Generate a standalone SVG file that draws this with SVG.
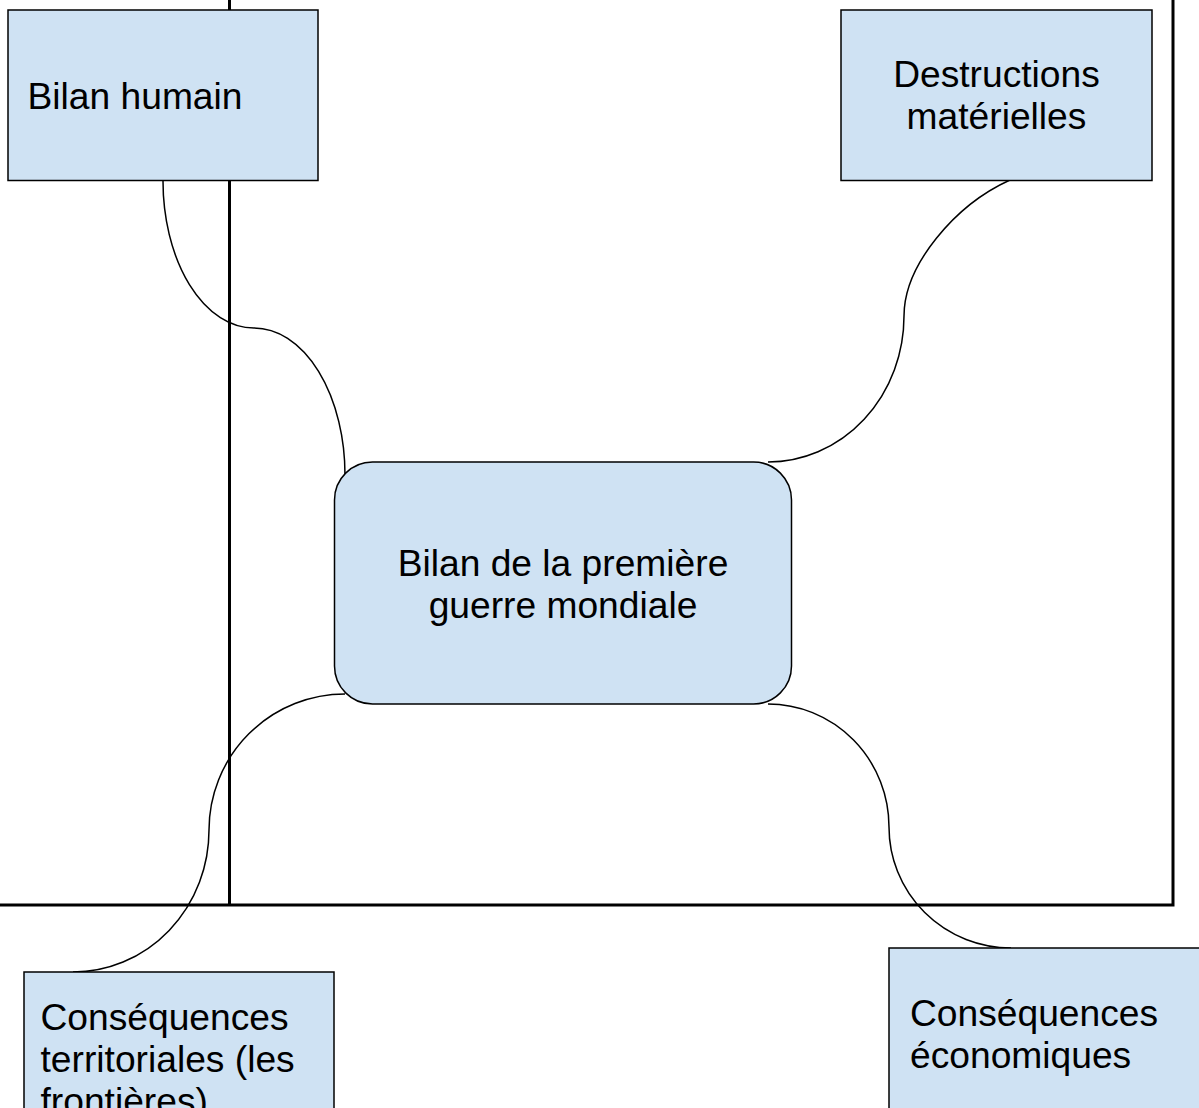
<svg xmlns="http://www.w3.org/2000/svg" width="1199" height="1108" viewBox="0 0 1199 1108">
<style>
.frame{fill:none;stroke:#000;stroke-width:3;stroke-linejoin:miter}
.conn{fill:none;stroke:#000;stroke-width:1.5}
.box{fill:#cfe2f3;stroke:#000;stroke-width:1.5}
.t{font-family:"Liberation Sans",Arial,sans-serif;font-size:37.2px;fill:#000}
.c{text-anchor:middle}
</style>
<rect width="1199" height="1108" fill="#fff"/>
<g id="frame">
<line class="frame" x1="229.5" y1="0" x2="229.5" y2="905"/>
<polyline class="frame" points="1173,0 1173,905 0,905"/>
</g>
<g id="connectors">
<path class="conn" d="M163,180 A91,147 0 0 0 254,328 A91,147 0 0 1 345,476"/>
<path class="conn" d="M1010,180 C955,205 904,265 904,316 A136,146 0 0 1 768,462"/>
<path class="conn" d="M345,694 A136,136 0 0 0 209,830 A136,142 0 0 1 73,972"/>
<path class="conn" d="M768,704 A121,123 0 0 1 889,827 A122,121 0 0 0 1011,948"/>
</g>
<g id="bilan-humain">
<rect class="box" x="8" y="10" width="310" height="170.5"/>
<text class="t" x="27.5" y="108.5">Bilan humain</text>
</g>
<g id="destructions">
<rect class="box" x="841" y="10" width="311" height="170.5"/>
<text class="t c" x="996.5" y="87">Destructions</text>
<text class="t c" x="996.5" y="129">matérielles</text>
</g>
<g id="centre">
<rect class="box" x="334.5" y="462" width="457" height="242" rx="38" ry="38"/>
<text class="t c" x="563" y="576">Bilan de la première</text>
<text class="t c" x="563" y="618">guerre mondiale</text>
</g>
<g id="territoriales">
<rect class="box" x="24" y="972" width="310" height="170"/>
<text class="t" x="40.5" y="1030">Conséquences</text>
<text class="t" x="40.5" y="1072">territoriales (les</text>
<text class="t" x="40.5" y="1114">frontières)</text>
</g>
<g id="economiques">
<rect class="box" x="889" y="948" width="320" height="170"/>
<text class="t" x="910" y="1026">Conséquences</text>
<text class="t" x="910" y="1068">économiques</text>
</g>
</svg>
